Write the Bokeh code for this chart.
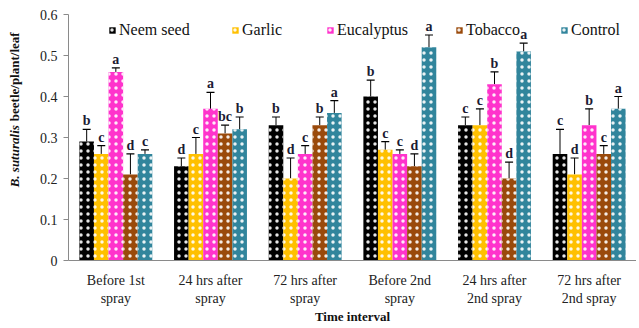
import math
from bokeh.plotting import figure
from bokeh.layouts import row
from bokeh.models import (ColumnDataSource, Range1d, FixedTicker, Whisker, TeeHead,
                          Legend, LegendItem)
from bokeh.core.properties import value
from bokeh.embed import file_html
from bokeh.resources import INLINE

intervals = ["Before 1st\nspray", "24 hrs after\nspray", "72 hrs after\nspray",
             "Before 2nd\nspray", "24 hrs after\n2nd spray", "72 hrs after\n2nd spray"]
treatments = ["Neem seed", "Garlic", "Eucalyptus", "Tobacco", "Control"]
colors = ["#000000", "#FFC000", "#FF33CC", "#9A4A0B", "#31859C"]

neem = [0.29, 0.23, 0.33, 0.40, 0.33, 0.26]
garlic = [0.26, 0.26, 0.20, 0.27, 0.33, 0.21]
eucalyptus = [0.46, 0.37, 0.26, 0.26, 0.43, 0.33]
tobacco = [0.21, 0.31, 0.33, 0.23, 0.20, 0.26]
control = [0.26, 0.32, 0.36, 0.52, 0.51, 0.37]

neem_err = [0.03, 0.02, 0.02, 0.04, 0.02, 0.06]
garlic_err = [0.02, 0.04, 0.05, 0.02, 0.04, 0.04]
eucalyptus_err = [0.01, 0.04, 0.02, 0.01, 0.03, 0.04]
tobacco_err = [0.05, 0.02, 0.02, 0.03, 0.04, 0.02]
control_err = [0.01, 0.03, 0.03, 0.03, 0.02, 0.03]

neem_sig = ["b", "d", "b", "b", "c", "c"]
garlic_sig = ["c", "c", "d", "c", "c", "d"]
eucalyptus_sig = ["a", "a", "c", "c", "b", "b"]
tobacco_sig = ["d", "bc", "b", "d", "d", "c"]
control_sig = ["c", "b", "a", "a", "a", "a"]

y_ticks = [0, 0.1, 0.2, 0.3, 0.4, 0.5, 0.6]
y_tick_labels = ["0", "0.1", "0.2", "0.3", "0.4", "0.5", "0.6"]

series = [neem, garlic, eucalyptus, tobacco, control]
errs = [neem_err, garlic_err, eucalyptus_err, tobacco_err, control_err]
sigs = [neem_sig, garlic_sig, eucalyptus_sig, tobacco_sig, control_sig]

SERIF = "Liberation Serif"
bw = 0.154
H = 326
TOP = 14
BOTTOM = 66
LABEL_W = 28

p = figure(width=608, height=H, output_backend="svg", toolbar_location=None,
           x_range=Range1d(-0.5, 5.5), y_range=Range1d(0, 0.6),
           min_border_left=40, min_border_right=0, min_border_top=TOP, min_border_bottom=BOTTOM)
p.outline_line_color = None
p.grid.visible = False

legend_x = [40, 163, 258, 387, 492]
for j, (name, vals, err, sig, col) in enumerate(zip(treatments, series, errs, sigs, colors)):
    xs = [i + (j - 2) * bw for i in range(len(vals))]
    tops = [v + e for v, e in zip(vals, err)]
    src = ColumnDataSource(dict(x=xs, top=vals, up=tops, sig=sig))
    r = p.vbar(x="x", top="top", width=bw, source=src, fill_color=col, line_color=None,
               hatch_pattern="dot", hatch_color="white", hatch_scale=7, hatch_weight=1.0,
               hatch_alpha=0.9)
    w = Whisker(source=src, base="x", lower="top", upper="up", dimension="height",
                line_color="black", line_width=1,
                upper_head=TeeHead(size=8, line_color="black", line_width=1.2), lower_head=None)
    p.add_layout(w)
    p.text(x="x", y="up", text="sig", source=src, text_align="center", text_baseline="bottom",
           y_offset=-1, text_font=value(SERIF), text_font_style="bold", text_font_size="14px",
           text_color="#1b1b33")
    lg = Legend(items=[LegendItem(label=name, renderers=[r])], orientation="horizontal",
                location=(legend_x[j], 221), glyph_width=8, glyph_height=8, label_standoff=3,
                padding=0, margin=0, background_fill_alpha=0, border_line_alpha=0,
                label_text_font=SERIF, label_text_font_size="16px", label_text_color="#111")
    p.add_layout(lg)

# y axis
p.yaxis.ticker = FixedTicker(ticks=y_ticks)
p.yaxis.major_label_overrides = {t: l for t, l in zip(y_ticks, y_tick_labels)}
p.yaxis.minor_tick_line_color = None
p.yaxis.major_tick_in = 0
p.yaxis.major_tick_out = 5
p.yaxis.axis_line_color = "#8a8a8a"
p.yaxis.major_tick_line_color = "#8a8a8a"
p.yaxis.major_label_text_font = SERIF
p.yaxis.major_label_text_font_size = "14px"
p.yaxis.major_label_text_color = "#222"
p.yaxis.major_label_standoff = 6

# x axis
p.xaxis.ticker = FixedTicker(ticks=list(range(len(intervals))))
p.xaxis.major_label_overrides = {i: l for i, l in enumerate(intervals)}
p.xaxis.minor_tick_line_color = None
p.xaxis.major_tick_in = 0
p.xaxis.major_tick_out = 0
p.xaxis.axis_line_color = "#8a8a8a"
p.xaxis.major_label_text_font = SERIF
p.xaxis.major_label_text_font_size = "14px"
p.xaxis.major_label_text_color = "#222"
p.xaxis.major_label_standoff = 12
p.xaxis.axis_label = "Time interval"
p.xaxis.axis_label_text_font = SERIF
p.xaxis.axis_label_text_font_style = "bold"
p.xaxis.axis_label_text_font_size = "13px"
p.xaxis.axis_label_text_line_height = 1.0
p.xaxis.axis_label_text_color = "#111"
p.xaxis.axis_label_standoff = 0

# y axis title (mixed styles) in a narrow side figure sharing the vertical frame
yl = figure(width=LABEL_W, height=H, output_backend="svg", toolbar_location=None,
            x_range=Range1d(0, 1), y_range=Range1d(0, 0.6),
            min_border_left=0, min_border_right=0, min_border_top=TOP, min_border_bottom=BOTTOM)
yl.axis.visible = False
yl.grid.visible = False
yl.outline_line_color = None
yl.text(x=[0.5], y=[0.33], text=["B. suturalis"], angle=math.pi / 2, text_align="right",
        text_baseline="middle", text_font=value(SERIF), text_font_style="bold italic",
        text_font_size="13px", text_color="#111")
yl.text(x=[0.5], y=[0.33], text=["beetle/plant/leaf"], angle=math.pi / 2, text_align="left",
        text_baseline="middle", y_offset=-4, text_font=value(SERIF), text_font_style="bold",
        text_font_size="13px", text_color="#111")

layout = row(yl, p)
open("out.html", "w").write(file_html(layout, INLINE))
